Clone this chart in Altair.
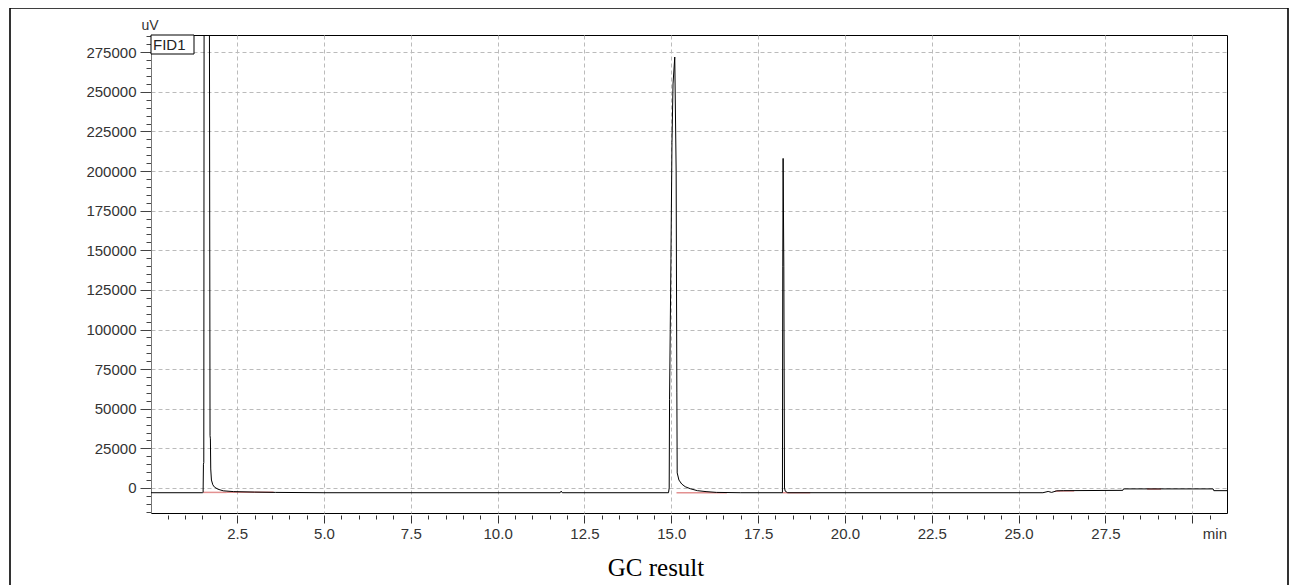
import altair as alt
import pandas as pd

# ---- chromatogram trace (time in min, signal in uV) ----
times = [0.02, 1.50, 1.52, 1.53, 1.54, 1.55, 1.70, 1.72, 1.73, 1.74, 1.76, 1.80, 1.85, 1.95,
         2.10, 2.40, 3.00, 3.60, 5.00, 11.80, 11.83, 11.86,
         14.92, 14.94, 14.95, 14.97, 14.99, 15.02, 15.05, 15.10, 15.14, 15.16, 15.17,
         15.22, 15.30, 15.40, 15.55, 15.75, 16.00, 16.30, 17.00,
         18.19, 18.20, 18.21, 18.22, 18.24, 18.26, 18.28, 18.35,
         25.70, 25.85, 25.95, 26.10, 26.30, 28.00, 28.02, 30.60, 30.62, 31.00]
signal = [-3000, -3000, -2800, 15000, 16000, 330000, 330000, 33000, 31000, 12000, 5000, 2000, 500, -800,
          -1800, -2300, -2600, -2800, -3000, -3000, -2000, -3000,
          -3000, 0, 56000, 100000, 145000, 218000, 255000, 272000, 200000, 60000, 9500,
          5000, 2500, 800, -500, -1700, -2300, -2800, -3000,
          -3000, -3000, 140000, 208000, 140000, 0, -2000, -3000,
          -3000, -2200, -2800, -1800, -1700, -1500, -600, -600, -1700, -1700]

# ---- integration baselines ----
base_start = [1.52, 2.20, 15.15, 18.20, 26.05, 26.20, 28.70]
base_end = [2.20, 3.55, 16.60, 19.00, 26.20, 26.60, 29.10]
base_value = [-2800, -2700, -3000, -3000, -2000, -1900, -700]

# ---- axes ----
x_ticks = [0.5 * k for k in range(1, 62)]
y_ticks = list(range(-15000, 285001, 5000))
x_domain = [0.02, 31.0]
y_domain = [-15800, 285900]

W, H = 1076, 478

df = pd.DataFrame({"t": times, "uV": signal, "order": list(range(len(times)))})
bdf = pd.DataFrame({"t0": base_start, "t1": base_end, "v": base_value})
one = pd.DataFrame({"a": [0]})

xscale = alt.Scale(domain=x_domain, nice=False, zero=False)
yscale = alt.Scale(domain=y_domain, nice=False, zero=False)

xaxis = alt.Axis(
    values=x_ticks, tickCount=1000, title=None, domain=False, offset=2,
    tickColor="#333",
    tickSize={"condition": {"test": "datum.value % 2.5 === 0", "value": 8}, "value": 4},
    labelExpr="(datum.value % 2.5 === 0 && datum.value < 29) ? format(datum.value, '.1f') : ''",
    labelFont="Liberation Sans", labelFontSize=15, labelColor="#333",
    labelPadding=3, labelOverlap=False, labelFlush=False,
    grid=True, gridDash=[4, 3], gridColor="#bbbbbb",
    gridOpacity={"condition": {"test": "datum.value % 2.5 === 0", "value": 1}, "value": 0},
)
yaxis = alt.Axis(
    values=y_ticks, tickCount=1000, title=None, domainColor="#777",
    tickColor="#444",
    tickSize={"condition": {"test": "datum.value % 25000 === 0", "value": 11}, "value": 5},
    labelExpr="datum.value % 25000 === 0 ? format(datum.value, 'd') : ''",
    labelFont="Liberation Sans", labelFontSize=15, labelColor="#333",
    labelPadding=4, labelOverlap=False, labelFlush=False,
    grid=True, gridDash=[4, 3], gridColor="#bbbbbb",
    gridOpacity={"condition": {"test": "datum.value % 25000 === 0", "value": 1}, "value": 0},
)

trace = alt.Chart(df).mark_line(color="black", strokeWidth=1, clip=True).encode(
    x=alt.X("t:Q", scale=xscale, axis=xaxis),
    y=alt.Y("uV:Q", scale=yscale, axis=yaxis),
    order="order:Q",
)

baselines = alt.Chart(bdf).mark_rule(color="#d04848", opacity=0.6, strokeWidth=1.5, clip=True).encode(
    x=alt.X("t0:Q", scale=xscale), x2="t1:Q",
    y=alt.Y("v:Q", scale=yscale),
)

frame = alt.Chart(one).mark_rect(fillOpacity=0, stroke="black", strokeWidth=1.6).encode(
    x=alt.value(-141), x2=alt.value(1137), y=alt.value(-27), y2=alt.value(600)
)

uv = alt.Chart(one).mark_text(font="Liberation Sans", fontSize=14, color="#333",
                              align="center", baseline="middle").encode(
    x=alt.value(-1), y=alt.value(-9), text=alt.value("uV"))

fid_box = alt.Chart(one).mark_rect(fill="white", stroke="black", strokeWidth=1).encode(
    x=alt.value(0), x2=alt.value(43), y=alt.value(0), y2=alt.value(19))
fid_txt = alt.Chart(one).mark_text(font="Liberation Sans", fontSize=15, color="#222",
                                   align="left", baseline="middle").encode(
    x=alt.value(2), y=alt.value(10), text=alt.value("FID1"))

min_txt = alt.Chart(one).mark_text(font="Liberation Sans", fontSize=15, color="#333",
                                   align="right", baseline="middle").encode(
    x=alt.value(W), y=alt.value(H + 21), text=alt.value("min"))

caption = alt.Chart(one).mark_text(font="Liberation Serif", fontSize=25, color="black",
                                   align="center", baseline="alphabetic").encode(
    x=alt.value(505), y=alt.value(541), text=alt.value("GC result"))

chart = alt.layer(
    baselines, trace, frame, fid_box, fid_txt, uv, min_txt, caption
).properties(
    width=W, height=H,
    autosize=alt.AutoSizeParams(type="none"),
    padding={"left": 143, "top": 27, "right": 63, "bottom": 72},
    background="white",
).configure_view(stroke="black", strokeWidth=1)

chart.save("out.html", embed_options={"renderer": "svg", "actions": False})
